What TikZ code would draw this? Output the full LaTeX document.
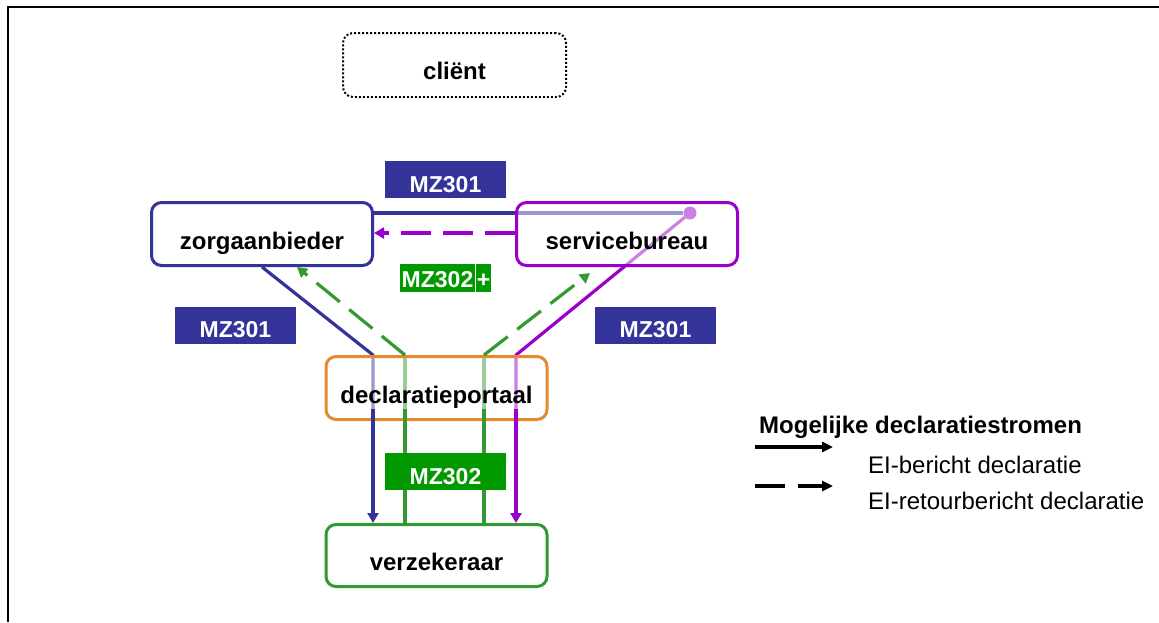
\documentclass[tikz,border=0pt]{standalone}
\usepackage{fontspec}
\setmainfont{Liberation Sans}
\usetikzlibrary{arrows.meta,calc,backgrounds}
\definecolor{cblue}{HTML}{333399}
\definecolor{cpurple}{HTML}{9900CC}
\definecolor{cgreen}{HTML}{339933}
\definecolor{lgreen}{HTML}{009900}
\definecolor{corange}{HTML}{E68A2E}
\begin{document}
\begin{tikzpicture}[x=1pt,y=-1pt,
  box/.style={draw, line width=3pt, rounded corners=10pt, fill=white,
    minimum width=221pt, minimum height=63pt, inner sep=0pt,
    text height=33pt, text depth=3pt, font=\fontsize{24}{28}\selectfont\bfseries},
  seethru/.style={fill opacity=0.5, text opacity=1},
  lab/.style={fill=cblue, text=white, inner sep=0pt,
    minimum width=121pt, minimum height=37pt,
    text height=26pt, text depth=1pt, font=\fontsize{23}{27}\selectfont\bfseries},
  glab/.style={fill=lgreen, text=white, inner sep=0pt, minimum height=28pt,
    text height=19pt, text depth=1pt, font=\fontsize{23}{27}\selectfont\bfseries},
  conn/.style={line width=3.2pt, line join=round},
  tip/.style={-{Triangle[length=10pt,width=11pt]}},
  dsh/.style={dash pattern=on 30pt off 12pt},
  legtxt/.style={anchor=base west, inner sep=0pt, font=\fontsize{24}{28}\selectfont}
]
\useasboundingbox (0,0) rectangle (1159,622);
\draw[line width=2.5pt] (8,622) -- (8,7) -- (1159,7);

% nodes
\node[box, draw=black, line width=2pt, dash pattern=on 2pt off 2pt,
  minimum width=223pt, minimum height=64pt, text height=31pt, text depth=2pt] (client) at (454.5,65) {cliënt};
\node[box, draw=cblue] (zorg) at (262,234) {zorgaanbieder};
\node[box, draw=cpurple, seethru] (serv) at (627,234) {servicebureau};
\node[box, draw=corange, seethru] (portaal) at (436.5,388) {declaratieportaal};
\node[box, draw=cgreen, minimum height=62pt] (verzek) at (436.5,555.5) {verzekeraar};

\coordinate (bA) at (373,355);
\coordinate (gA) at (405,355);
\coordinate (gB) at (484,355);
\coordinate (pA) at (516,355);
\coordinate (bA2) at (373,409);
\coordinate (gA2) at (405,409);
\coordinate (gB2) at (484,409);
\coordinate (pA2) at (516,409);

\begin{pgfonlayer}{background}
  \node[circle, fill=cpurple, inner sep=0pt, minimum size=13pt] (dot) at (690,213) {};
  \draw[conn, cblue] (zorg.east |- dot) -- (dot);
  \draw[conn, cblue] (zorg.south) -- (bA) -- (bA2);
  \draw[conn, cpurple] (dot) -- (pA) -- (pA2);
  \draw[conn, cgreen] (gA) -- (gA2);
  \draw[conn, cgreen] (gB) -- (gB2);
\end{pgfonlayer}

\draw[conn, cpurple, dsh, tip] (serv.west |- 0,233) -- (zorg.east |- 0,233);
\draw[conn, cgreen, dsh, tip] (gA) -- ($(zorg.south)+(35,0)$);
\draw[conn, cgreen, dsh, tip] (gB) -- ($(serv.south)+(-37,6)$);

\draw[conn, cblue, tip] (bA2) -- (bA2 |- verzek.north);
\draw[conn, cpurple, tip] (pA2) -- (pA2 |- verzek.north);
\draw[conn, cgreen] (gA2) -- (gA2 |- verzek.north);
\draw[conn, cgreen] (gB2) -- (gB2 |- verzek.north);

% labels
\node[lab] (mzTop) at (445.5,179.5) {MZ301};
\node[lab] (mzLeft) at (235.5,325) {MZ301};
\node[lab] (mzRight) at (655.5,325) {MZ301};
\node[lab, fill=lgreen] (mzBot) at (445.5,471.5) {MZ302};
\node[glab, minimum width=75pt] (mzPlusA) at (437.5,278) {MZ302};
\node[glab, minimum width=15pt] (mzPlusB) at (483.5,278) {+};

% legend
\node[legtxt, font=\fontsize{24}{28}\selectfont\bfseries] (legT) at (759,433) {Mogelijke declaratiestromen};
\coordinate (l1s) at (755,447);
\coordinate (l1e) at (833,447);
\coordinate (l2s) at (755,486);
\coordinate (l2e) at (833,486);
\draw[line width=3.5pt, -{Triangle[length=11pt,width=10pt]}] (l1s) -- (l1e);
\draw[line width=3.5pt, dash pattern=on 30pt off 13pt, -{Triangle[length=11pt,width=10pt]}] (l2s) -- (l2e);
\node[legtxt] (leg1) at (868,473) {EI-bericht declaratie};
\node[legtxt] (leg2) at (868,509) {EI-retourbericht declaratie};
\end{tikzpicture}
\end{document}
